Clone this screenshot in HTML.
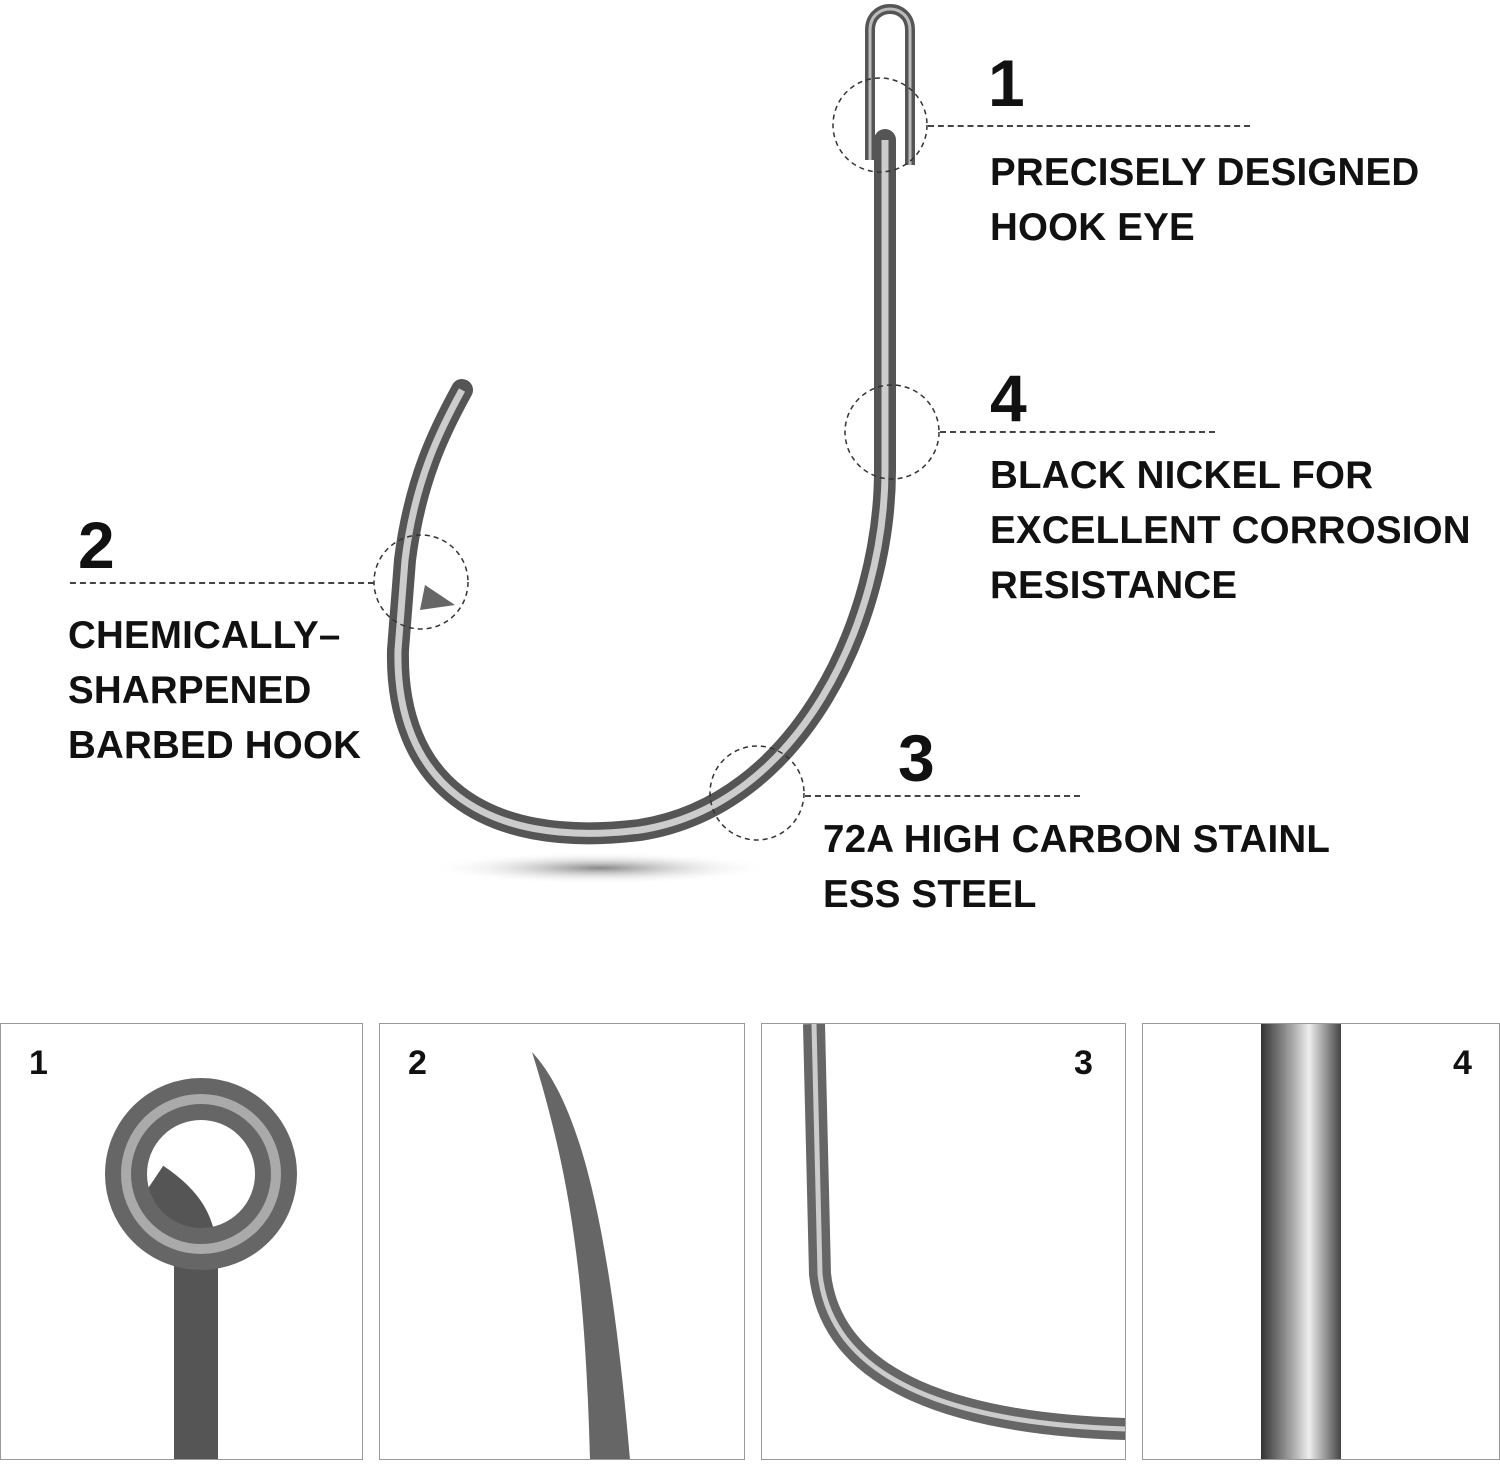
<!DOCTYPE html>
<html><head><meta charset="utf-8">
<style>
html,body{margin:0;padding:0;background:#fff;height:1467px;}
body{width:1500px;height:1467px;position:relative;overflow:hidden;font-family:"Liberation Sans",Arial,sans-serif;font-weight:bold;color:#111;}
.num{position:absolute;font-size:66px;line-height:66px;}
.lbl{position:absolute;font-size:38.5px;line-height:55px;letter-spacing:0.2px;white-space:nowrap;}
.dash{position:absolute;border-top:2px dashed #444;height:0;}
.panel{position:absolute;top:1023px;height:437px;box-sizing:border-box;border:1px solid #999;overflow:hidden;background:#fff;margin-bottom:0;}
.pn{position:absolute;top:20px;font-size:34px;}
svg{position:absolute;left:0;top:0;display:block;}
</style></head><body>
<svg width="1500" height="960">
<defs>
<linearGradient id="g" x1="0" y1="0" x2="1" y2="0">
<stop offset="0" stop-color="#333"/><stop offset="0.4" stop-color="#aaa"/><stop offset="0.6" stop-color="#eee"/><stop offset="1" stop-color="#444"/>
</linearGradient>
<radialGradient id="sh" cx="0.5" cy="0.5" r="0.5"><stop offset="0" stop-color="#555" stop-opacity="0.7"/><stop offset="1" stop-color="#fff" stop-opacity="0"/></radialGradient>
</defs>
<ellipse cx="600" cy="868" rx="170" ry="16" fill="url(#sh)"/>
<path d="M870 160 L870 30 C870 2 910 2 910 30 L910 165" fill="none" stroke="#555" stroke-width="10"/>
<path d="M870 160 L870 30 C870 2 910 2 910 30 L910 165" fill="none" stroke="#bbb" stroke-width="3"/>
<path d="M885 140 L885 470 C885 620 800 805 640 830 C480 850 395 780 398 650 L405 560 C415 480 440 430 462 390" fill="none" stroke="#555" stroke-width="22" stroke-linecap="round"/>
<path d="M885 140 L885 470 C885 620 800 805 640 830 C480 850 395 780 398 650 L405 560 C415 480 440 430 462 390" fill="none" stroke="#ccc" stroke-width="7"/>
<path d="M420 610 L455 605 L425 585 Z" fill="#666"/>
<g fill="none" stroke="#333" stroke-width="1.5" stroke-dasharray="5 4">
<circle cx="880" cy="125" r="47"/><circle cx="892" cy="432" r="47"/><circle cx="421" cy="582" r="47"/><circle cx="757" cy="793" r="47"/>
</g>
</svg>
<div class="num" style="left:988px;top:50px">1</div>
<div class="dash" style="left:928px;top:125px;width:322px"></div>
<div class="lbl" style="left:990px;top:145px">PRECISELY DESIGNED<br>HOOK EYE</div>
<div class="num" style="left:990px;top:365px">4</div>
<div class="dash" style="left:940px;top:431px;width:275px"></div>
<div class="lbl" style="left:990px;top:448px">BLACK NICKEL FOR<br>EXCELLENT CORROSION<br>RESISTANCE</div>
<div class="num" style="left:78px;top:512px">2</div>
<div class="dash" style="left:70px;top:582px;width:304px"></div>
<div class="lbl" style="left:68px;top:608px">CHEMICALLY–<br>SHARPENED<br>BARBED HOOK</div>
<div class="num" style="left:898px;top:725px">3</div>
<div class="dash" style="left:805px;top:795px;width:275px"></div>
<div class="lbl" style="left:823px;top:812px">72A HIGH CARBON STAINL<br>ESS STEEL</div>

<div class="panel" style="left:0;width:363px">
<svg width="362" height="436"><path d="M195 436 L195 240 C195 200 180 180 150 160" fill="none" stroke="#555" stroke-width="44"/><circle cx="200" cy="150" r="75" fill="none" stroke="#666" stroke-width="42"/><circle cx="200" cy="150" r="75" fill="none" stroke="#aaa" stroke-width="10"/></svg>
<div class="pn" style="left:28px">1</div></div>
<div class="panel" style="left:379px;width:366px">
<svg width="364" height="436"><path d="M152 28 C200 80 230 200 250 436 L210 436 C205 250 190 150 152 28Z" fill="#666"/></svg>
<div class="pn" style="left:28px">2</div></div>
<div class="panel" style="left:761px;width:365px">
<svg width="364" height="436"><path d="M52 0 L58 250 C70 360 200 400 364 405" fill="none" stroke="#666" stroke-width="22"/><path d="M52 0 L58 250 C70 360 200 400 364 405" fill="none" stroke="#ccc" stroke-width="5"/></svg>
<div class="pn" style="left:312px">3</div></div>
<div class="panel" style="left:1142px;width:358px">
<svg width="358" height="436"><rect x="118" y="0" width="80" height="436" fill="url(#g)"/></svg>
<div class="pn" style="left:310px">4</div></div>
</body></html>
